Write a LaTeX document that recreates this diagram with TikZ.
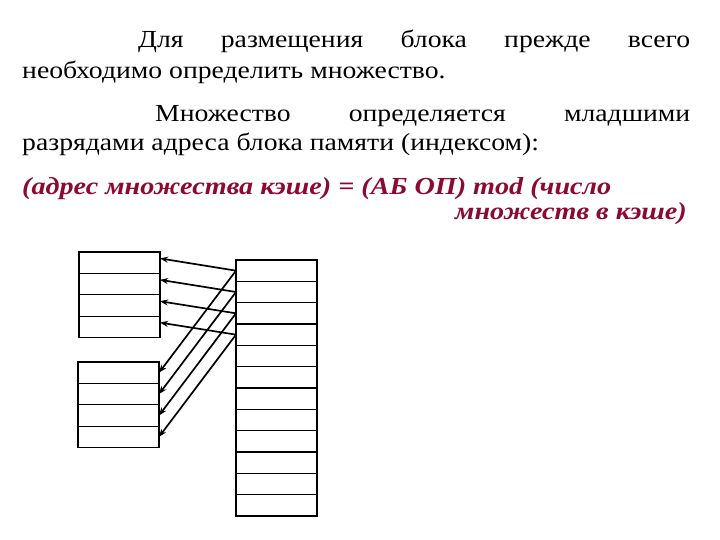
\documentclass[tikz,border=0pt]{standalone}
\usepackage{fontspec}
\setmainfont{Liberation Serif}[FakeStretch=1.13]
\newfontfamily\formulafont{Liberation Serif}[FakeStretch=1.15]
\usepackage{xcolor}
\usetikzlibrary{positioning,calc,arrows.meta}
\definecolor{formulared}{RGB}{140,10,50}

\begin{document}
\begin{tikzpicture}[x=1pt,y=-1pt,
    cell/.style={draw,line width=1.2pt,minimum width=81pt,minimum height=21.4pt,inner sep=0pt,outer sep=0pt},
    txt/.style={anchor=base west,inner sep=0pt,font=\fontsize{24.5}{28}\selectfont},
    red/.style={anchor=base west,inner sep=0pt,text=formulared,font=\fontsize{24.5}{28}\formulafont\bfseries\itshape},
    link/.style={-{Stealth[length=8pt,width=6pt]},line width=1.7pt}]
    \useasboundingbox (0,0) rectangle (720,540);

    % Text
    \node[txt] (t1) at (138,48) {\makebox[552pt][s]{Для размещения блока прежде всего}};
    \node[txt] (t2) at (22,79) {необходимо определить множество.};
    \node[txt] (t3) at (155,122) {\makebox[535pt][s]{Множество определяется младшими}};
    \node[txt] (t4) at (22,151) {разрядами адреса блока памяти (индексом):};
    \node[red] (f1) at (22,195) {(адрес множества кэше) = (АБ ОП) mod (число};
    \node[red,anchor=base east] (f2) at (687,219) {множеств в кэше)};

    % Upper block of cache
    \node[cell,anchor=north west] (u1) at (79,252) {};
    \foreach \i [remember=\i as \j (initially 1)] in {2,...,4}
        \node[cell,below=0pt of u\j] (u\i) {};

    % Lower block of cache
    \node[cell,anchor=north west] (l1) at (78,362) {};
    \foreach \i [remember=\i as \j (initially 1)] in {2,...,4}
        \node[cell,below=0pt of l\j] (l\i) {};

    % Main memory
    \node[cell,anchor=north west,minimum height=21.33pt] (r1) at (236,260) {};
    \foreach \i [remember=\i as \j (initially 1)] in {2,...,12}
        \node[cell,minimum height=21.33pt,below=0pt of r\j] (r\i) {};

    % Mapping
    \foreach \i in {1,...,4} {
        \draw[link] (r\i.west) -- ($(u\i.north east)!0.3!(u\i.south east)$);
        \draw[link] (r\i.west) -- (l\i.east);
    }
\end{tikzpicture}
\end{document}
